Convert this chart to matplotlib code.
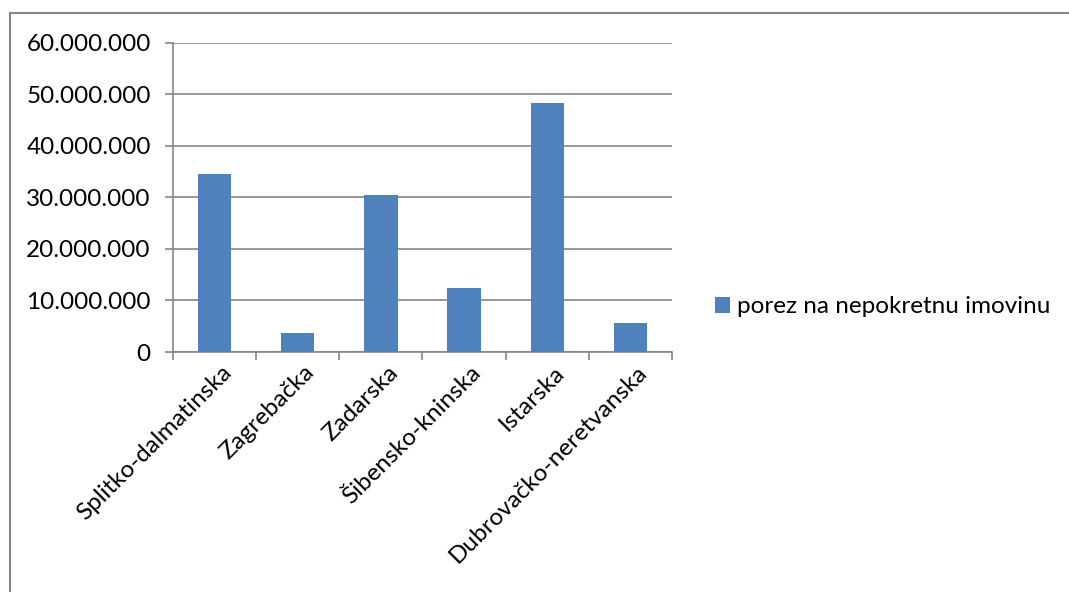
import matplotlib
matplotlib.use("Agg")
import matplotlib.pyplot as plt
from matplotlib.lines import Line2D
from matplotlib.ticker import FuncFormatter, MultipleLocator
from matplotlib.transforms import ScaledTranslation

# Data
zupanije = ["Splitko-dalmatinska", "Zagrebačka", "Zadarska",
            "Šibensko-kninska", "Istarska", "Dubrovačko-neretvanska"]
porez = [34_650_000, 3_650_000, 30_550_000, 12_500_000, 48_350_000, 5_700_000]
serija = "porez na nepokretnu imovinu"

plt.rcParams['font.family'] = ['Lato', 'DejaVu Sans']
BLUE = '#4F81BD'
GRID = '#868686'
FS = 17.5

fig = plt.figure(figsize=(10.69, 5.92), dpi=100)
ax = fig.add_axes([0.1618, 0.4054, 0.6286 - 0.1618, 0.9274 - 0.4054])

x = list(range(len(zupanije)))
ax.bar(x, porez, width=0.4, color=BLUE, zorder=3, label=serija)

ax.set_xlim(-0.5, len(zupanije) - 0.5)
ax.set_ylim(0, 60_000_000)
ax.yaxis.set_major_locator(MultipleLocator(10_000_000))
ax.yaxis.set_major_formatter(FuncFormatter(lambda v, p: f"{int(v):,}".replace(",", ".")))
ax.grid(axis='y', color=GRID, linewidth=1.2, zorder=0)

# category ticks sit between the bars, labels at bar centres
ax.set_xticks([i - 0.5 for i in range(len(zupanije) + 1)])
ax.set_xticklabels([])
ax.set_xticks(x, minor=True)
ax.set_xticklabels(zupanije, minor=True, rotation=45, ha='right',
                   rotation_mode='anchor', fontsize=FS)
ax.tick_params(axis='x', which='minor', length=0, pad=7)
ax.tick_params(axis='x', which='major', length=6, width=1.2, color=GRID)
ax.tick_params(axis='y', length=6, width=1.2, color=GRID, labelsize=FS, pad=10)
# nudge the slanted labels a little to the right, as in the original
shift = ScaledTranslation(6 / 100, 0, fig.dpi_scale_trans)
for lbl in ax.get_xticklabels(minor=True):
    lbl.set_transform(lbl.get_transform() + shift)

for side in ['top', 'right']:
    ax.spines[side].set_visible(False)
for side in ['left', 'bottom']:
    ax.spines[side].set_color(GRID)
    ax.spines[side].set_linewidth(1.2)

fig.legend(loc='center left', bbox_to_anchor=(715 / 1069, 1 - 307 / 592),
           bbox_transform=fig.transFigure, frameon=False, fontsize=FS,
           handlelength=0.62, handleheight=0.62, handletextpad=0.3,
           borderaxespad=0, borderpad=0)

# outer chart border (runs off the right and bottom of the image)
fig.add_artist(Line2D([10 / 1069, 1.01], [1 - 13 / 592] * 2, color=GRID, linewidth=1.5))
fig.add_artist(Line2D([10 / 1069] * 2, [-0.01, 1 - 13 / 592], color=GRID, linewidth=1.5))

fig.savefig("out.png", dpi=100)
